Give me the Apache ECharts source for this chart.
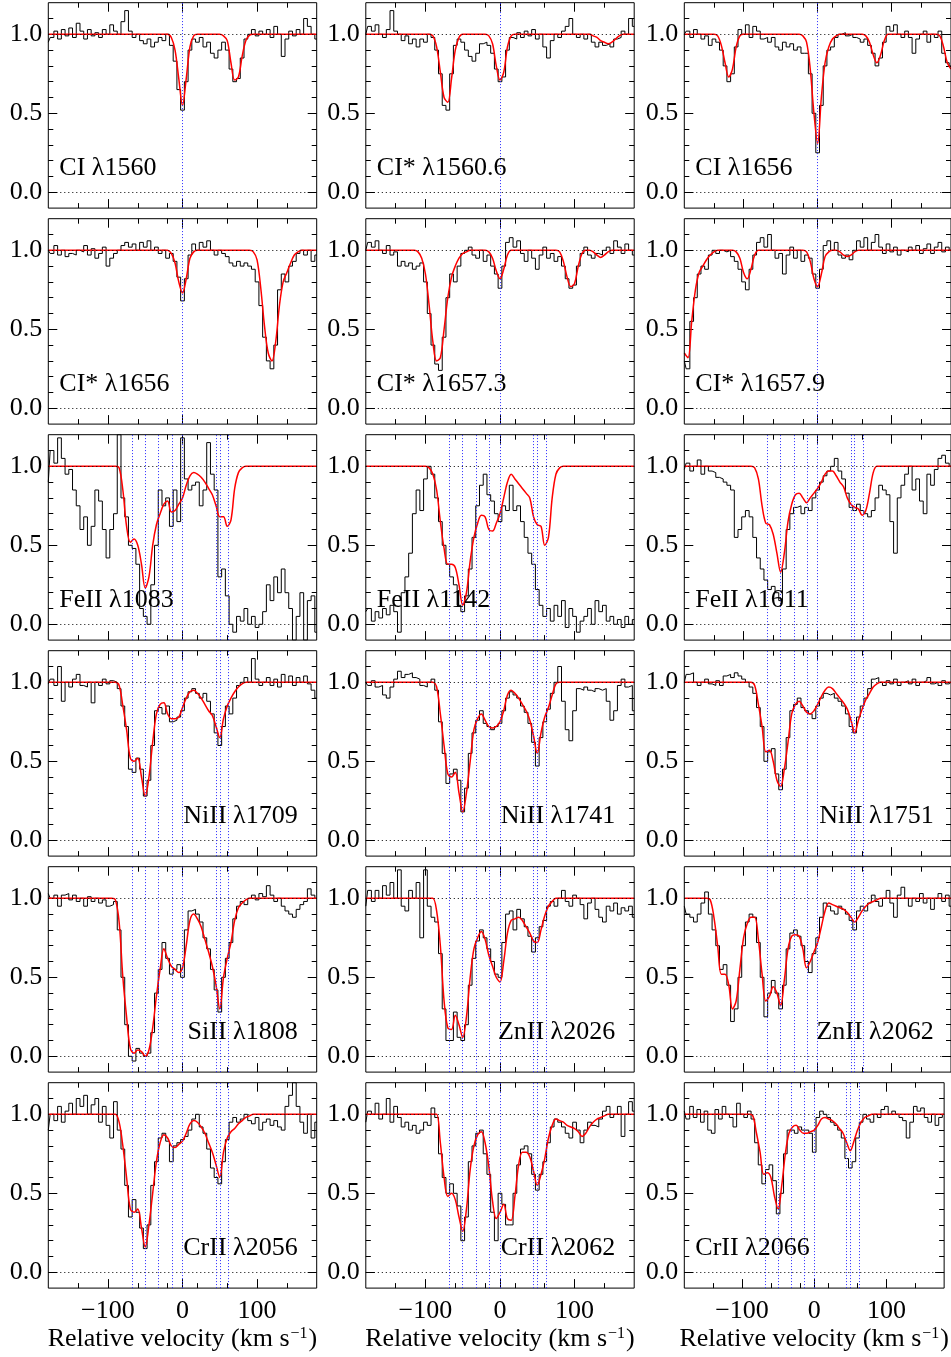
<!DOCTYPE html>
<html><head><meta charset="utf-8">
<script src="https://cdn.jsdelivr.net/npm/echarts@6/dist/echarts.min.js"></script>
<style>html,body{margin:0;padding:0;background:#fff}#c{width:951px;height:1357px}</style>
</head><body><div id="c"></div>
<script>
// ---------------- DATA ----------------
const VELOCITY = [
-180,-175,-170,-165,-160,-155,-150,-145,-140,-135,
-130,-125,-120,-115,-110,-105,-100,-95,-90,-85,
-80,-75,-70,-65,-60,-55,-50,-45,-40,-35,
-30,-25,-20,-15,-10,-5,0,5,10,15,
20,25,30,35,40,45,50,55,60,65,
70,75,80,85,90,95,100,105,110,115,
120,125,130,135,140,145,150,155,160,165,
170,175,180];

const CI1560_OBS = [
0.95,0.98,1.02,0.97,1.03,0.99,1.04,0.98,1.07,1.02,
0.97,1.03,0.99,1.01,0.98,1.03,1.00,1.06,1.02,1.00,
1.08,1.15,1.02,0.98,1.00,0.96,0.94,0.97,0.92,0.95,
0.98,0.96,1.00,0.93,0.83,0.65,0.52,0.70,0.90,0.97,
0.95,0.98,0.92,0.95,0.88,0.85,0.90,0.95,0.90,0.78,
0.70,0.72,0.85,0.97,1.00,1.03,0.99,1.02,1.00,1.03,
0.98,1.05,1.00,0.86,0.97,1.02,0.99,1.03,1.00,1.10,
1.05,1.00,0.97];
const CI1560_FIT = [
1,1,1,1,1,1,1,1,1,1,
1,1,1,1,1,1,1,1,1,1,
1,1,1,1,1,1,1,1,1,1,
1,1,1,0.98,0.90,0.72,0.55,0.72,0.92,0.99,
1,1,1,1,1,1,1,0.99,0.96,0.82,
0.71,0.73,0.86,0.96,0.995,1,1,1,1,1,
1,1,1,1,1,1,1,1,1,1,
1,1,1];

const CIS1560_OBS = [
1.00,1.05,1.02,1.06,1.00,0.98,1.03,1.15,1.02,1.00,
0.96,0.99,0.94,0.97,0.92,0.97,0.95,1.00,0.98,0.90,
0.75,0.55,0.52,0.75,0.93,0.97,0.95,0.90,0.86,0.83,
0.88,0.94,0.95,0.93,0.88,0.78,0.70,0.73,0.90,0.98,
0.97,1.01,0.98,1.02,0.99,1.03,0.97,1.00,0.92,0.85,
0.96,1.00,0.98,1.02,1.05,1.10,1.00,0.98,1.00,0.97,
1.00,0.95,0.92,0.95,0.93,0.94,0.92,0.97,0.98,1.02,
1.00,1.10,1.05];
const CIS1560_FIT = [
1,1,1,1,1,1,1,1,1,1,
1,1,1,1,1,1,1,1,0.99,0.92,
0.76,0.60,0.57,0.72,0.90,0.98,1,1,1,1,
1,1,1,0.99,0.94,0.80,0.71,0.76,0.92,0.99,
1,1,1,1,1,1,1,1,1,1,
1,1,1,1,1,1,1,1,1,1,
1,0.99,0.98,0.96,0.95,0.94,0.95,0.97,0.99,1,
1,1,1];

const CI1656_OBS = [
1.00,1.02,0.98,1.03,1.00,0.97,0.99,0.93,0.97,0.95,
0.90,0.80,0.70,0.75,0.92,1.03,1.00,1.06,0.98,1.05,
1.02,0.97,0.98,0.95,0.98,0.92,0.90,0.95,0.92,0.94,
0.90,0.92,0.88,0.88,0.75,0.50,0.25,0.55,0.80,0.90,
0.92,0.98,1.00,1.01,0.99,1.00,0.98,0.97,0.95,0.97,
0.93,0.88,0.80,0.85,0.95,1.05,1.02,1.06,1.00,0.98,
1.02,0.98,0.88,0.97,1.00,1.02,0.95,1.00,0.98,1.02,
0.88,0.82,0.80];
const CI1656_FIT = [
1,1,1,1,1,1,1,1,1,0.99,
0.93,0.82,0.73,0.78,0.92,0.99,1,1,1,1,
1,1,1,1,1,1,1,1,1,1,
1,1,0.99,0.95,0.78,0.50,0.31,0.60,0.82,0.92,
0.97,0.99,1,1,1,1,1,1,1,0.99,
0.95,0.87,0.82,0.87,0.96,1,1,1,1,1,
1,1,1,1,1,1,1,1,1,0.99,
0.92,0.82,0.78];

const CIS1656_OBS = [
1.00,0.98,1.03,0.97,1.00,0.96,0.98,0.97,1.00,0.99,
1.03,0.97,1.01,0.95,0.98,1.02,0.90,0.95,0.98,1.00,
1.03,1.05,1.02,1.04,1.00,1.05,1.02,1.06,1.00,1.02,
0.98,1.00,0.95,0.98,0.93,0.83,0.68,0.82,0.97,1.04,
1.00,1.05,1.02,1.06,1.00,0.97,1.00,0.98,0.96,0.92,
0.90,0.93,0.90,0.92,0.90,0.88,0.80,0.65,0.45,0.30,
0.25,0.40,0.75,0.85,0.80,0.90,0.93,0.98,1.00,0.97,
1.00,0.93,0.97];
const CIS1656_FIT = [
1,1,1,1,1,1,1,1,1,1,
1,1,1,1,1,1,1,1,1,1,
1,1,1,1,1,1,1,1,1,1,
1,1,1,0.98,0.92,0.80,0.73,0.82,0.95,0.99,
1,1,1,1,1,1,1,1,1,1,
1,1,1,1,1,0.99,0.94,0.76,0.52,0.35,
0.30,0.42,0.65,0.80,0.86,0.92,0.97,0.99,1,1,
1,1,1];

const CIS1657_3_OBS = [
1.00,1.05,1.02,1.06,1.00,0.98,1.03,0.97,0.99,0.90,
0.93,0.90,0.92,0.88,0.90,0.92,0.80,0.60,0.40,0.28,
0.24,0.45,0.70,0.85,0.80,0.90,0.98,1.00,1.02,0.97,
0.95,1.00,0.93,0.97,0.90,0.85,0.76,0.90,1.05,1.08,
1.02,1.06,0.98,0.93,1.00,0.95,0.88,0.97,1.02,0.95,
0.98,0.93,0.96,0.90,0.82,0.76,0.78,0.90,0.98,1.02,
0.97,0.95,0.98,0.97,1.00,1.02,0.98,1.06,1.02,0.98,
1.04,1.00,0.97];
const CIS1657_3_FIT = [
1,1,1,1,1,1,1,1,1,1,
1,1,1,1,0.99,0.95,0.85,0.65,0.42,0.30,
0.32,0.50,0.70,0.83,0.90,0.95,0.98,0.99,1,1,
1,1,1,0.99,0.95,0.87,0.82,0.88,0.97,1,
1,1,1,1,1,1,1,1,1,1,
1,1,0.99,0.93,0.83,0.77,0.79,0.90,0.98,1,
1,0.99,0.97,0.955,0.97,0.99,1,1,1,1,
1,1,1];

const CIS1657_9_OBS = [
0.30,0.25,0.55,0.70,0.85,0.90,0.88,0.97,1.00,0.98,
1.00,0.99,1.00,0.96,0.93,0.88,0.80,0.75,0.88,0.97,
1.05,1.08,1.02,1.10,1.00,0.95,0.98,0.85,0.97,1.02,
0.95,1.00,0.93,0.97,0.95,0.85,0.76,0.88,1.03,1.06,
1.00,1.05,0.97,0.95,0.97,0.94,1.00,1.06,1.02,1.08,
1.00,1.05,1.10,1.02,0.98,1.04,0.99,1.02,0.97,1.00,
0.99,1.02,1.00,1.03,0.98,1.01,1.04,0.98,1.02,1.05,
0.99,1.02,1.00];
const CIS1657_9_FIT = [
0.35,0.32,0.55,0.75,0.86,0.90,0.94,0.97,0.99,1,
1,1,1,1,0.99,0.95,0.86,0.82,0.88,0.97,
1,1,1,1,1,1,1,1,1,1,
1,1,1,0.99,0.93,0.82,0.77,0.85,0.96,0.99,
1,1,0.99,0.97,0.96,0.97,0.99,1,1,1,
1,1,1,1,1,1,1,1,1,1,
1,1,1,1,1,1,1,1,1,1,
1,1,1];

const FEII1083_OBS = [
0.90,1.10,1.02,1.18,1.05,0.95,0.98,0.85,0.75,0.60,
0.68,0.50,0.62,0.85,0.78,0.60,0.42,0.60,0.70,1.20,
0.80,0.68,0.50,0.48,0.38,0.10,0.05,0.00,0.25,0.50,
0.85,0.75,0.80,0.62,0.85,0.65,1.18,0.92,0.85,0.88,
0.90,0.75,0.85,1.15,0.95,0.85,0.30,0.35,0.18,0.00,
-0.05,0.05,0.02,0.10,0.00,0.05,-0.02,0.00,0.08,0.25,
0.15,0.30,0.20,0.35,0.20,0.10,-0.10,0.05,0.20,-0.10,
0.15,0.18,-0.05];
const FEII1083_FIT = [
1,1,1,1,1,1,1,1,1,1,
1,1,1,1,1,1,1,1,1,0.99,
0.85,0.62,0.52,0.54,0.50,0.38,0.23,0.30,0.50,0.63,
0.70,0.76,0.78,0.71,0.72,0.76,0.80,0.88,0.94,0.96,
0.95,0.93,0.90,0.86,0.82,0.75,0.68,0.68,0.62,0.66,
0.86,0.96,0.99,1,1,1,1,1,1,1,
1,1,1,1,1,1,1,1,1,1,
1,1,1];

const FEII1142_OBS = [
0.08,0.10,0.02,0.08,0.04,0.10,0.06,0.12,0.08,-0.05,
0.20,0.30,0.45,0.70,0.85,0.72,0.92,1.00,0.95,0.80,
0.65,0.50,0.38,0.30,0.25,0.12,0.08,0.18,0.35,0.55,
0.75,0.88,0.95,0.82,0.78,0.70,0.65,0.75,0.72,0.88,
0.72,0.75,0.65,0.55,0.45,0.38,0.22,0.12,0.05,0.10,
0.02,0.12,0.05,0.15,-0.02,0.10,0.05,-0.05,0.02,0.05,
0.10,0.00,0.15,0.08,0.12,0.02,0.05,0.00,0.03,-0.02,
0.05,0.00,0.03];
const FEII1142_FIT = [
1,1,1,1,1,1,1,1,1,1,
1,1,1,1,1,1,1,0.99,0.95,0.85,
0.65,0.48,0.38,0.38,0.36,0.25,0.12,0.20,0.40,0.55,
0.64,0.69,0.68,0.60,0.59,0.64,0.70,0.80,0.90,0.95,
0.92,0.89,0.86,0.83,0.80,0.68,0.63,0.62,0.50,0.55,
0.80,0.95,0.99,1,1,1,1,1,1,1,
1,1,1,1,1,1,1,1,1,1,
1,1,1];

const FEII1611_OBS = [
0.98,1.02,0.97,1.00,1.04,0.95,1.00,0.97,0.96,0.93,
0.92,0.90,0.88,0.85,0.55,0.60,0.68,0.72,0.68,0.55,
0.42,0.35,0.28,0.22,0.24,0.20,0.15,0.35,0.60,0.70,
0.74,0.75,0.70,0.74,0.72,0.80,0.85,0.90,0.94,0.97,
1.00,1.05,0.97,0.92,0.83,0.74,0.72,0.76,0.72,0.70,
0.68,0.72,0.80,0.88,0.85,0.82,0.65,0.45,0.80,0.88,
0.95,1.00,0.85,0.92,0.78,0.70,0.95,0.88,0.98,1.05,
1.07,1.02,1.00];
const FEII1611_FIT = [
1,1,1,1,1,1,1,1,1,1,
1,1,1,1,1,1,1,1,1,0.99,
0.92,0.75,0.64,0.63,0.57,0.45,0.33,0.45,0.65,0.76,
0.82,0.83,0.80,0.77,0.80,0.83,0.86,0.90,0.95,0.97,
0.97,0.94,0.90,0.87,0.80,0.76,0.74,0.73,0.69,0.72,
0.83,0.96,1,1,1,1,1,1,1,1,
1,1,1,1,1,1,1,1,1,1,
1,1,1];

const NIII1709_OBS = [
0.99,1.02,0.98,1.10,0.88,1.00,0.97,1.02,1.05,0.98,
0.97,1.00,0.87,1.00,0.98,1.02,0.99,1.01,1.00,0.96,
0.85,0.72,0.45,0.43,0.52,0.45,0.28,0.38,0.60,0.82,
0.84,0.80,0.85,0.75,0.76,0.78,0.82,0.90,0.94,0.96,
0.93,0.90,0.93,0.88,0.80,0.68,0.60,0.72,0.85,0.80,
0.90,0.98,1.00,1.03,1.00,1.15,1.02,0.98,1.00,1.03,
0.98,1.02,0.97,1.05,1.00,1.04,0.98,1.03,1.00,1.04,
0.99,0.95,0.90];
const NIII1709_FIT = [
1,1,1,1,1,1,1,1,1,1,
1,1,1,1,1,1,1,1,1,0.98,
0.85,0.70,0.52,0.50,0.52,0.40,0.28,0.40,0.62,0.80,
0.86,0.87,0.80,0.77,0.77,0.78,0.84,0.90,0.94,0.95,
0.93,0.90,0.86,0.82,0.79,0.72,0.65,0.77,0.85,0.90,
0.94,0.97,0.99,1,1,1,1,1,1,1,
1,1,1,1,1,1,1,1,1,1,
1,1,1];

const NIII1741_OBS = [
1.00,0.98,1.01,0.97,0.98,0.92,0.90,0.97,1.02,1.07,
1.03,1.05,1.06,1.03,1.02,0.98,0.97,1.00,1.02,0.95,
0.75,0.55,0.36,0.42,0.45,0.38,0.18,0.33,0.55,0.68,
0.76,0.82,0.74,0.72,0.70,0.72,0.74,0.82,0.90,0.94,
0.92,0.90,0.85,0.81,0.74,0.62,0.47,0.65,0.75,0.83,
0.93,1.00,1.10,0.88,0.70,0.63,0.82,0.96,0.95,0.97,
0.95,0.94,0.96,0.95,0.96,0.88,0.76,0.82,0.98,1.02,
0.97,0.98,0.82];
const NIII1741_FIT = [
1,1,1,1,1,1,1,1,1,1,
1,1,1,1,1,1,1,1,1,0.97,
0.80,0.60,0.42,0.40,0.43,0.30,0.18,0.30,0.50,0.70,
0.77,0.80,0.76,0.72,0.71,0.72,0.75,0.82,0.92,0.95,
0.93,0.90,0.86,0.82,0.76,0.66,0.55,0.68,0.78,0.84,
0.92,0.99,1,1,1,1,1,1,1,1,
1,1,1,1,1,1,1,1,1,1,
1,1,1];

const NIII1751_OBS = [
1.00,1.05,1.06,1.00,0.98,1.00,1.02,0.99,0.98,1.01,
0.98,1.04,1.05,1.03,1.06,1.04,1.02,1.00,0.97,0.93,
0.84,0.72,0.50,0.56,0.58,0.42,0.32,0.45,0.65,0.82,
0.86,0.90,0.84,0.82,0.80,0.77,0.85,0.90,0.93,0.92,
0.93,0.90,0.88,0.85,0.80,0.72,0.68,0.78,0.85,0.90,
0.96,1.02,1.03,1.00,0.98,1.01,0.99,1.02,0.98,1.00,
1.01,0.99,1.02,0.98,1.00,1.01,1.03,0.99,1.00,0.98,
1.01,0.99,1.00];
const NIII1751_FIT = [
1,1,1,1,1,1,1,1,1,1,
1,1,1,1,1,1,1,1,1,0.98,
0.86,0.72,0.56,0.57,0.50,0.38,0.34,0.45,0.62,0.80,
0.86,0.88,0.85,0.81,0.80,0.82,0.86,0.91,0.95,0.97,
0.96,0.93,0.90,0.87,0.83,0.76,0.68,0.76,0.83,0.89,
0.93,0.97,0.99,1,1,1,1,1,1,1,
1,1,1,1,1,1,1,1,1,1,
1,1,1];

const SIII1808_OBS = [
1.03,1.00,1.02,0.95,1.02,1.03,0.99,1.02,0.98,1.00,
0.95,1.01,0.98,1.00,0.97,0.99,0.95,0.96,0.98,0.80,
0.50,0.20,0.00,-0.03,0.05,0.02,0.00,0.02,0.15,0.40,
0.55,0.72,0.62,0.52,0.55,0.58,0.50,0.80,0.92,0.93,
0.90,0.85,0.75,0.68,0.55,0.42,0.28,0.50,0.62,0.72,
0.87,0.95,0.98,0.96,1.00,1.02,0.99,1.03,1.01,1.08,
1.02,0.98,1.00,0.95,0.92,0.90,0.88,0.93,0.96,0.98,
1.06,1.02,1.00];
const SIII1808_FIT = [
1,1,1,1,1,1,1,1,1,1,
1,1,1,1,1,1,1,1,0.99,0.85,
0.50,0.25,0.05,0.02,0.04,0.03,0.00,0.04,0.18,0.38,
0.55,0.68,0.62,0.57,0.55,0.53,0.56,0.70,0.86,0.90,
0.87,0.82,0.74,0.66,0.57,0.45,0.30,0.50,0.62,0.72,
0.86,0.94,0.97,0.99,1,1,1,1,1,1,
1,1,1,1,1,1,1,1,1,1,
1,1,1];

const ZNII2026_OBS = [
0.95,1.05,0.98,1.05,1.00,1.08,1.02,1.10,1.00,1.18,
0.95,0.92,1.05,1.00,1.10,0.75,1.18,0.95,0.88,0.85,
0.65,0.30,0.10,0.10,0.28,0.12,0.10,0.20,0.45,0.62,
0.73,0.80,0.75,0.68,0.60,0.52,0.50,0.72,0.90,0.92,
0.80,0.93,0.87,0.82,0.76,0.66,0.75,0.82,0.86,0.95,
0.98,0.95,1.00,1.05,0.98,0.95,1.02,1.00,0.96,0.87,
0.97,1.00,0.93,0.88,0.85,0.95,0.92,0.97,0.90,0.94,
0.92,0.95,0.88];
const ZNII2026_FIT = [
1,1,1,1,1,1,1,1,1,1,
1,1,1,1,1,1,1,1,1,0.92,
0.70,0.35,0.18,0.17,0.26,0.20,0.12,0.25,0.50,0.68,
0.75,0.79,0.74,0.64,0.57,0.50,0.47,0.60,0.78,0.86,
0.87,0.88,0.86,0.82,0.78,0.73,0.72,0.80,0.89,0.95,
0.98,1,1,1,1,1,1,1,1,1,
1,1,1,1,1,1,1,1,1,1,
1,1,1];

const ZNII2062_OBS = [
0.95,0.90,0.88,0.85,0.90,0.97,1.04,0.90,0.80,0.70,
0.55,0.58,0.45,0.22,0.30,0.50,0.70,0.85,0.90,0.88,
0.72,0.50,0.25,0.40,0.48,0.40,0.30,0.45,0.68,0.78,
0.80,0.76,0.70,0.60,0.53,0.65,0.75,0.88,0.97,0.95,
0.92,0.90,0.95,0.93,0.90,0.86,0.80,0.92,0.95,0.92,
0.97,1.02,0.98,0.95,1.00,1.05,0.97,0.88,1.02,1.07,
1.00,0.95,1.00,0.98,1.03,0.97,1.00,0.93,1.00,1.03,
0.98,1.02,0.95];
const ZNII2062_FIT = [
1,1,1,1,1,1,1,0.99,0.88,0.70,
0.52,0.52,0.45,0.30,0.35,0.55,0.75,0.84,0.88,0.88,
0.74,0.52,0.35,0.38,0.44,0.40,0.32,0.48,0.68,0.76,
0.77,0.76,0.68,0.56,0.60,0.66,0.72,0.82,0.92,0.97,
0.96,0.95,0.94,0.93,0.91,0.88,0.85,0.88,0.92,0.95,
0.97,0.98,0.99,1,1,1,1,1,1,1,
1,1,1,1,1,1,1,1,1,1,
1,1,1];

const CRII2056_OBS = [
0.90,1.00,0.96,1.05,0.95,1.02,1.07,1.00,1.10,1.05,
1.12,1.00,1.06,1.10,0.95,1.05,0.93,0.85,1.08,0.90,
0.78,0.55,0.35,0.46,0.38,0.28,0.15,0.30,0.55,0.70,
0.85,0.88,0.83,0.70,0.80,0.82,0.84,0.86,0.90,0.97,
1.00,0.92,0.88,0.78,0.66,0.60,0.56,0.70,0.84,0.95,
0.98,0.95,0.97,1.00,0.96,0.94,0.98,0.90,0.95,0.97,
0.93,0.96,0.92,0.90,1.05,1.12,1.20,1.05,0.95,0.88,
1.00,0.85,0.95];
const CRII2056_FIT = [
1,1,1,1,1,1,1,1,1,1,
1,1,1,1,1,1,1,1,1,0.95,
0.80,0.60,0.40,0.38,0.40,0.28,0.16,0.30,0.50,0.70,
0.82,0.87,0.85,0.80,0.79,0.81,0.83,0.88,0.94,0.96,
0.95,0.92,0.88,0.82,0.76,0.68,0.60,0.76,0.85,0.89,
0.91,0.94,0.96,0.98,0.99,1,1,1,1,1,
1,1,1,1,1,1,1,1,1,1,
1,1,1];

const CRII2062_OBS = [
0.95,1.02,1.00,1.07,0.97,1.00,1.10,0.95,1.05,0.98,
0.92,0.95,0.90,0.93,0.88,0.90,0.95,0.93,1.04,0.98,
0.75,0.60,0.50,0.56,0.50,0.42,0.20,0.35,0.70,0.80,
0.88,0.90,0.75,0.62,0.38,0.20,0.50,0.43,0.30,0.30,
0.50,0.68,0.78,0.80,0.75,0.62,0.52,0.62,0.70,0.82,
0.92,0.97,0.95,0.92,0.88,0.85,0.95,0.90,0.82,0.90,
0.95,0.93,0.92,0.97,1.02,1.05,0.98,1.00,1.05,0.86,
1.00,1.08,1.02];
const CRII2062_FIT = [
1,1,1,1,1,1,1,1,1,1,
1,1,1,1,1,1,1,1,1,1,
0.82,0.60,0.48,0.50,0.46,0.35,0.26,0.40,0.65,0.80,
0.87,0.89,0.82,0.67,0.45,0.34,0.38,0.43,0.34,0.33,
0.48,0.68,0.76,0.76,0.73,0.64,0.55,0.62,0.72,0.85,
0.93,0.97,0.96,0.95,0.93,0.92,0.91,0.89,0.86,0.88,
0.92,0.95,0.97,0.98,0.99,1,1,1,1,1,
1,1,1];

const CRII2066_OBS = [
1.02,0.97,1.05,0.98,1.03,0.95,1.02,0.90,0.88,1.03,
0.97,1.05,1.00,0.98,0.92,1.07,1.00,0.98,1.02,0.97,
0.82,0.68,0.56,0.65,0.68,0.58,0.37,0.50,0.75,0.90,
0.90,0.88,0.92,0.90,0.90,0.88,0.76,0.98,1.02,1.00,
0.98,0.95,0.93,0.90,0.85,0.72,0.66,0.70,0.85,0.95,
1.00,0.97,0.95,1.00,0.98,1.03,1.05,1.00,1.02,1.00,
0.98,0.96,0.85,0.95,1.05,1.02,1.04,0.98,0.95,1.00,
0.93,0.98,1.00];
const CRII2066_FIT = [
1,1,1,1,1,1,1,1,1,1,
1,1,1,1,1,1,1,1,1,0.99,
0.88,0.76,0.62,0.63,0.60,0.48,0.40,0.55,0.75,0.88,
0.92,0.93,0.90,0.88,0.88,0.89,0.90,0.93,0.97,0.98,
0.97,0.96,0.94,0.91,0.88,0.82,0.77,0.83,0.90,0.95,
0.98,0.99,1,1,1,1,1,1,1,1,
1,1,1,1,1,1,1,1,1,1,
1,1,1];

const PANEL_LABELS = [
'CI λ1560','CI* λ1560.6','CI λ1656',
'CI* λ1656','CI* λ1657.3','CI* λ1657.9',
'FeII λ1083','FeII λ1142','FeII λ1611',
'NiII λ1709','NiII λ1741','NiII λ1751',
'SiII λ1808','ZnII λ2026','ZnII λ2062',
'CrII λ2056','CrII λ2062','CrII λ2066'];
const PANEL_OBS = [CI1560_OBS,CIS1560_OBS,CI1656_OBS,CIS1656_OBS,CIS1657_3_OBS,CIS1657_9_OBS,
  FEII1083_OBS,FEII1142_OBS,FEII1611_OBS,NIII1709_OBS,NIII1741_OBS,NIII1751_OBS,
  SIII1808_OBS,ZNII2026_OBS,ZNII2062_OBS,CRII2056_OBS,CRII2062_OBS,CRII2066_OBS];
const PANEL_FIT = [CI1560_FIT,CIS1560_FIT,CI1656_FIT,CIS1656_FIT,CIS1657_3_FIT,CIS1657_9_FIT,
  FEII1083_FIT,FEII1142_FIT,FEII1611_FIT,NIII1709_FIT,NIII1741_FIT,NIII1751_FIT,
  SIII1808_FIT,ZNII2026_FIT,ZNII2062_FIT,CRII2056_FIT,CRII2062_FIT,CRII2066_FIT];
const COMPONENTS_CI = [0];
const COMPONENTS_METALS = [-68,-50,-32,-14,0,45,50,62];
const REF_LEVELS = [0,1];
const X_RANGE = [-180,180];
const Y_RANGE = [-0.1,1.2];
const X_TICKS = [-100,0,100];
const X_MINOR = [-140,-60,-20,20,60,140];
const Y_TICKS = [0,0.5,1];
const Y_MINOR = [0.1,0.2,0.3,0.4,0.6,0.7,0.8,0.9,1.1];

// ---------------- LAYOUT ----------------
const COL_LEFT = [48.3,365.8,684.3];
const PW = 268.4, PH = 205.4, ROW_TOP0 = 2.7, ROW_STEP = 216;
const LABEL_SIDE = ['L','L','L','L','L','L','L','L','L','R','R','R','R','R','R','R','R','L'];
const FONT = '"Liberation Serif","Times New Roman",serif';
const FS = 26;

PANEL_OBS.forEach((a,i)=>{ if(a.length!==VELOCITY.length) throw new Error('obs len '+i+' '+a.length); });
PANEL_FIT.forEach((a,i)=>{ if(a.length!==VELOCITY.length) throw new Error('fit len '+i+' '+a.length); });

const grids=[], xAxes=[], yAxes=[], series=[], graphics=[];
const minus = v => String(v).replace('-', '\u2212');

PANEL_LABELS.forEach((label,i)=>{
  const r = Math.floor(i/3), c = i%3;
  const left = COL_LEFT[c], top = ROW_TOP0 + r*ROW_STEP;
  const bottomRow = (r === 5);
  grids.push({left:left, top:top, width:PW, height:PH, show:true, borderColor:'#000', borderWidth:1, backgroundColor:'rgba(0,0,0,0)', z:5});
  const xb = {type:'value', gridIndex:i, min:X_RANGE[0], max:X_RANGE[1], splitLine:{show:false}, axisLine:{show:false, onZero:false}};
  const tick = (vals,len)=>({show:true, inside:true, length:len, customValues:vals, lineStyle:{color:'#000', width:1}});
  xAxes.push(Object.assign({}, xb, {position:'bottom', axisTick:tick(X_TICKS,9),
    axisLabel:{show:bottomRow, customValues:X_TICKS, formatter:minus, fontFamily:FONT, fontSize:FS, color:'#000', margin:10},
    name: bottomRow ? 'Relative velocity (km s{sup|\u22121})' : '',
    nameLocation:'middle', nameGap:38,
    nameTextStyle:{fontFamily:FONT, fontSize:FS, color:'#000', rich:{sup:{fontFamily:FONT, fontSize:16, color:'#000', verticalAlign:'top', padding:[0,1,0,1]}}}
  }));
  xAxes.push(Object.assign({}, xb, {position:'bottom', axisTick:tick(X_MINOR,5), axisLabel:{show:false}}));
  xAxes.push(Object.assign({}, xb, {position:'top', axisTick:tick(X_TICKS,9), axisLabel:{show:false}}));
  xAxes.push(Object.assign({}, xb, {position:'top', axisTick:tick(X_MINOR,5), axisLabel:{show:false}}));
  const yb = {type:'value', gridIndex:i, min:Y_RANGE[0], max:Y_RANGE[1], splitLine:{show:false}, axisLine:{show:false, onZero:false}};
  yAxes.push(Object.assign({}, yb, {position:'left', axisTick:tick(Y_TICKS,9),
    axisLabel:{show:true, customValues:Y_TICKS, formatter:v=>Number(v).toFixed(1), fontFamily:FONT, fontSize:FS, color:'#000', margin:6}}));
  yAxes.push(Object.assign({}, yb, {position:'left', axisTick:tick(Y_MINOR,5), axisLabel:{show:false}}));
  yAxes.push(Object.assign({}, yb, {position:'right', axisTick:tick(Y_TICKS,9), axisLabel:{show:false}}));
  yAxes.push(Object.assign({}, yb, {position:'right', axisTick:tick(Y_MINOR,5), axisLabel:{show:false}}));

  const comps = r < 2 ? COMPONENTS_CI : COMPONENTS_METALS;
  series.push({type:'line', xAxisIndex:4*i, yAxisIndex:4*i, step:'middle', symbol:'none',
    data: VELOCITY.map((v,k)=>[v, PANEL_OBS[i][k]]),
    lineStyle:{color:'#000', width:1}, z:3, silent:true,
    markLine:{silent:true, symbol:['none','none'], label:{show:false}, animation:false,
      lineStyle:{color:'#000', type:[1,3], width:1},
      data: REF_LEVELS.map(y=>({yAxis:y}))}
  });
  series.push({type:'line', xAxisIndex:4*i, yAxisIndex:4*i, smooth:0.35, symbol:'none',
    data: VELOCITY.map((v,k)=>[v, PANEL_FIT[i][k]]),
    lineStyle:{color:'#ff0000', width:1.5}, z:4, silent:true,
    markLine:{silent:true, symbol:['none','none'], label:{show:false}, animation:false,
      lineStyle:{color:'#2a2aff', type:[1,2], width:1},
      data: comps.map(x=>({xAxis:x}))}
  });
  const side = LABEL_SIDE[i];
  graphics.push({type:'text', z:100,
    x: side==='L' ? left+11 : left+PW-19, y: top+165,
    style:{text:label, fontFamily:FONT, fontSize:FS, fill:'#000', align: side==='L'?'left':'right', verticalAlign:'middle'}});
});

const chart = echarts.init(document.getElementById('c'), null, {renderer:'canvas'});
chart.setOption({animation:false, backgroundColor:'#fff', grid:grids, xAxis:xAxes, yAxis:yAxes, series:series, graphic:graphics});
</script></body></html>
